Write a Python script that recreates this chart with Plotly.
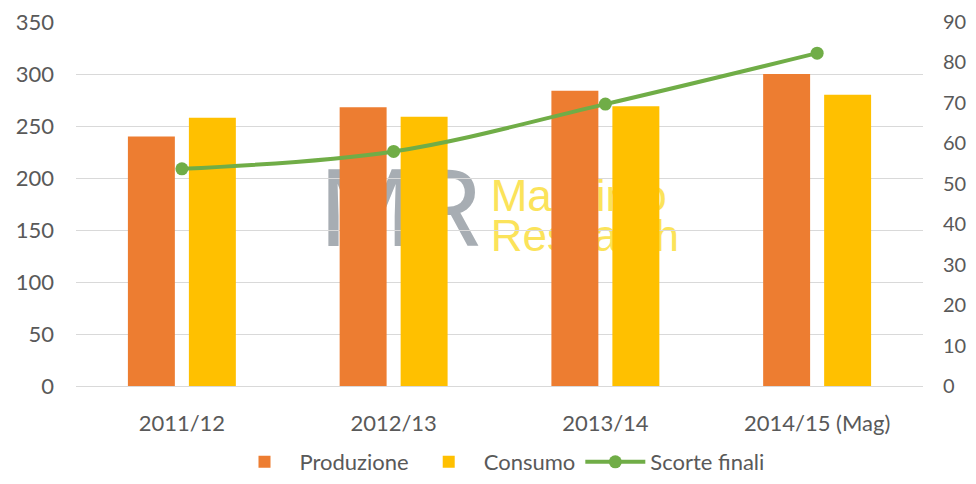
import plotly.graph_objects as go

stagioni = ["2011/12", "2012/13", "2013/14", "2014/15 (Mag)"]
produzione = [240, 268, 284, 300]
consumo = [258, 259, 269, 280]
scorte_finali = [53.7, 58.0, 69.7, 82.3]

font_grigio = "#595959"
griglia = "#D9D9D9"

fig = go.Figure()
fig.add_trace(go.Bar(x=stagioni, y=produzione, name="Produzione",
                     marker=dict(color="#ED7D31", line=dict(width=0))))
fig.add_trace(go.Bar(x=stagioni, y=consumo, name="Consumo",
                     marker=dict(color="#FFC000", line=dict(width=0))))
fig.add_trace(go.Scatter(x=stagioni, y=scorte_finali, name="Scorte finali", yaxis="y2",
                         mode="lines+markers", line=dict(color="#70AD47", width=4, shape="spline"),
                         marker=dict(color="#70AD47", size=13)))

# watermark behind the bars
def watermark(text, x0, x1, y0, y1, size, color, pos, weight="normal", family="Liberation Sans"):
    fig.add_shape(type="rect", xref="x domain", yref="y domain",
                  x0=x0, x1=x1, y0=y0, y1=y1, layer="below",
                  line=dict(width=0), fillcolor="rgba(0,0,0,0)",
                  label=dict(text=text, textposition=pos, padding=0,
                             font=dict(size=size, color=color, family=family, weight=weight)))

watermark("MR", 0.2916, 0.4734, 0.379, 0.635, 108, "#A7ADB3", "middle center", family="Roboto")
watermark("Massimo", 0.486, 0.75, 0.49, 0.58, 44, "#FBE35A", "middle left")
watermark("Research", 0.486, 0.75, 0.38, 0.47, 44, "#FBE35A", "middle left")

# page body has an 8px margin: keep the page height within the window (no scrollbar)
fig.update_layout(
    width=968, height=468,
    margin=dict(l=68, r=53, t=14, b=90),
    paper_bgcolor="white", plot_bgcolor="white",
    font=dict(family="Lato", size=22, color=font_grigio),
    barmode="group", bargap=0.424, bargroupgap=0.23,
    showlegend=True,
    legend=dict(orientation="h", x=0.5, xanchor="center", xref="paper",
                y=14 / 468, yanchor="middle", yref="container",
                font=dict(size=22, color=font_grigio), itemwidth=60),
    xaxis=dict(showline=True, linecolor=griglia, linewidth=1, showgrid=False,
               ticks="", ticklabelstandoff=18, automargin=False),
    yaxis=dict(range=[0, 350], dtick=50, showgrid=True, gridcolor=griglia, gridwidth=1,
               zeroline=False, showline=False, ticks="", ticklabelstandoff=21,
               automargin=False, ticklabeloverflow="allow"),
    yaxis2=dict(range=[0, 90], dtick=10, overlaying="y", side="right", showgrid=False,
                zeroline=False, showline=False, ticks="", ticklabelstandoff=19,
                automargin=False, ticklabeloverflow="allow", tickfont=dict(size=20)),
)

fig.write_html("out.html")
